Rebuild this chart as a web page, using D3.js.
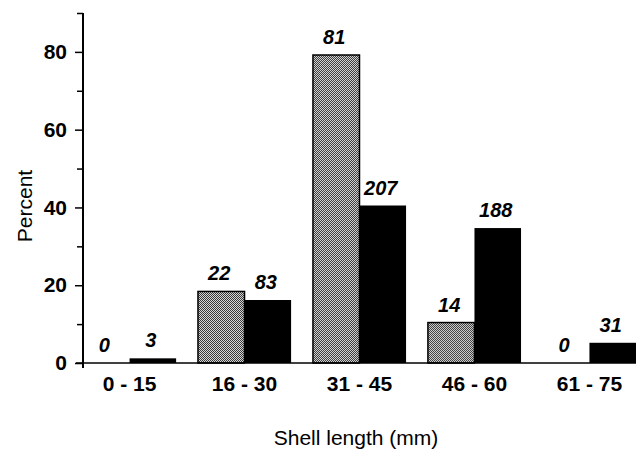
<!DOCTYPE html>
<html>
<head>
<meta charset="utf-8">
<script src="https://cdn.jsdelivr.net/npm/d3@7"></script>
<style>
  body { margin: 0; background: #fff; }
  text { font-family: 'Liberation Sans', Arial, Helvetica, sans-serif; fill: #000; }
</style>
</head>
<body>
<div id="chart"></div>
<script>
// size classes on the x axis
var categories = ['0 - 15', '16 - 30', '31 - 45', '46 - 60', '61 - 75'];
// percent
var grayPercent = [0, 18.4, 79.2, 10.4, 0];
var blackPercent = [1.2, 16.2, 40.5, 34.7, 5.2];
// numbers printed above the bars
var grayCounts = [0, 22, 81, 14, 0];
var blackCounts = [3, 83, 207, 188, 31];
var majorTicks = [0, 20, 40, 60, 80];
var minorTicks = [10, 30, 50, 70, 90];

var width = 639, height = 454;

var svg = d3.select('#chart').append('svg')
    .attr('width', width)
    .attr('height', height);

// checker fill for the gray series
var pat = svg.append('defs').append('pattern')
    .attr('id', 'checker')
    .attr('patternUnits', 'userSpaceOnUse')
    .attr('width', 2)
    .attr('height', 2);
pat.append('rect').attr('width', 2).attr('height', 2).attr('fill', '#dcdcdc');
pat.append('rect').attr('width', 1).attr('height', 1).attr('fill', '#333');
pat.append('rect').attr('x', 1).attr('y', 1).attr('width', 1).attr('height', 1).attr('fill', '#333');

var x = d3.scaleBand()
    .domain(categories)
    .range([83, 636])
    .paddingInner(0.19)
    .paddingOuter(0);

var sub = d3.scaleBand()
    .domain(['gray', 'black'])
    .range([0, x.bandwidth()]);

var y = d3.scaleLinear()
    .domain([0, 90])
    .range([363, 13]);

var rows = categories.map(function (c, i) {
    return [
        { cat: c, key: 'gray', pct: grayPercent[i], n: grayCounts[i] },
        { cat: c, key: 'black', pct: blackPercent[i], n: blackCounts[i] }
    ];
});

var groups = svg.selectAll('.group')
    .data(rows)
    .enter().append('g')
    .attr('class', 'group')
    .attr('transform', function (d) { return 'translate(' + x(d[0].cat) + ',0)'; });

groups.selectAll('rect')
    .data(function (d) { return d; })
    .enter().append('rect')
    .attr('x', function (d) { return sub(d.key); })
    .attr('y', function (d) { return y(d.pct); })
    .attr('width', sub.bandwidth())
    .attr('height', function (d) { return y(0) - y(d.pct); })
    .attr('fill', function (d) { return d.key === 'gray' ? 'url(#checker)' : '#000'; })
    .attr('stroke', '#000')
    .attr('stroke-width', function (d) { return d.key === 'gray' ? 1.5 : 0; });

groups.selectAll('.val')
    .data(function (d) { return d; })
    .enter().append('text')
    .attr('class', 'val')
    .attr('x', function (d) { return sub(d.key) + sub.bandwidth() / 2 - 2; })
    .attr('y', function (d) { return y(d.pct) - 11; })
    .attr('text-anchor', 'middle')
    .style('font-size', '20px')
    .style('font-weight', 'bold')
    .style('font-style', 'italic')
    .text(function (d) { return d.n; });

// y axis: labelled majors, plain minors
var yAxis = svg.append('g')
    .attr('class', 'y_axis')
    .attr('transform', 'translate(83,0)')
    .call(d3.axisLeft(y).tickValues(majorTicks).tickSize(8).tickPadding(8).tickSizeOuter(0));
yAxis.select('.domain').remove();
yAxis.selectAll('text')
    .style('font-size', '21px')
    .style('font-weight', 'bold')
    .style('font-family', "'Liberation Sans', Arial, sans-serif");
yAxis.selectAll('line').attr('stroke-width', 1.5);

var yMinor = svg.append('g')
    .attr('transform', 'translate(83,0)')
    .call(d3.axisLeft(y).tickValues(minorTicks).tickSize(6).tickFormat(''));
yMinor.select('.domain').remove();
yMinor.selectAll('line').attr('stroke-width', 1.5);

svg.append('line')
    .attr('x1', 83).attr('x2', 83)
    .attr('y1', y(90)).attr('y2', y(0) + 5)
    .attr('stroke', '#000')
    .attr('stroke-width', 2);

// x axis
var xAxis = svg.append('g')
    .attr('class', 'x_axis')
    .attr('transform', 'translate(0,' + y(0) + ')')
    .call(d3.axisBottom(x).tickSize(0).tickPadding(13));
xAxis.select('.domain').remove();
xAxis.selectAll('text')
    .style('font-size', '21px')
    .style('font-weight', 'bold')
    .style('font-family', "'Liberation Sans', Arial, sans-serif");

svg.append('line')
    .attr('x1', 76).attr('x2', 636)
    .attr('y1', y(0)).attr('y2', y(0))
    .attr('stroke', '#000')
    .attr('stroke-width', 1.5);

svg.append('text')
    .attr('x', 356)
    .attr('y', 445)
    .attr('text-anchor', 'middle')
    .style('font-size', '21px')
    .text('Shell length (mm)');

svg.append('text')
    .attr('transform', 'translate(32,206) rotate(-90)')
    .attr('text-anchor', 'middle')
    .style('font-size', '21px')
    .text('Percent');
</script>
</body>
</html>
